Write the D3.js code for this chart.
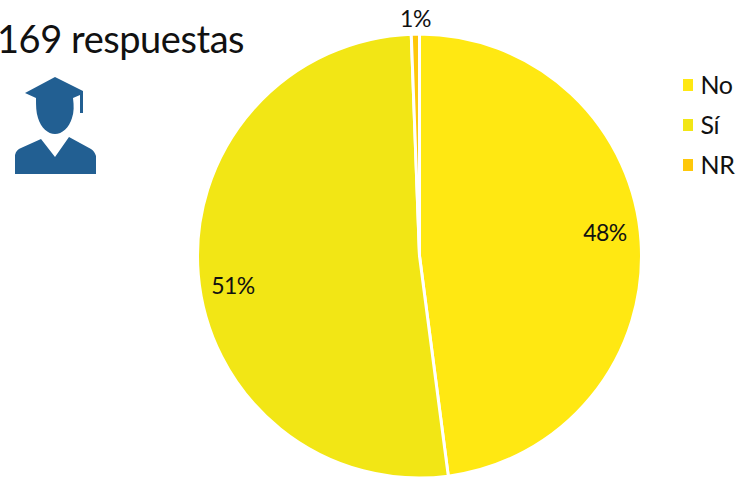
<!DOCTYPE html>
<html><head><meta charset="utf-8">
<script src="https://cdn.jsdelivr.net/npm/d3@7/dist/d3.min.js"></script>
<style>html,body{margin:0;padding:0;background:#fff;overflow:hidden}svg{display:block}text{font-family:Lato,"Open Sans",sans-serif;fill:#111}</style>
</head><body><svg id="c" width="737" height="478"></svg>
<script>
const categories = ["No","Sí","NR"];
const values = [81,87,1];
const labels = ["48%","51%","1%"];
const colors = ["#ffe812","#f2e615","#fec80a"];
const title = "169 respuestas";
const svg = d3.select("#c");
const cx=419.5, cy=256, R=222;
const pie = d3.pie().sort(null)(values);
const arc = d3.arc().innerRadius(0).outerRadius(R);
const g = svg.append("g").attr("transform",`translate(${cx},${cy})`);
g.selectAll("path").data(pie).join("path").attr("d",arc)
 .attr("fill",(d,i)=>colors[i]).attr("stroke","#fff").attr("stroke-width",3).attr("stroke-linejoin","round");
const labelPos = [[185.5,-15],[-186.5,38],[-4,-229]];
g.selectAll("text").data(pie).join("text")
 .attr("x",(d,i)=>labelPos[i][0]).attr("y",(d,i)=>labelPos[i][1])
 .attr("text-anchor","middle").attr("font-size",23).attr("letter-spacing",-0.5)
 .text((d,i)=>labels[i]);
svg.append("text").attr("x",-3).attr("y",52.5).attr("font-size",38).attr("letter-spacing",-0.45).text(title);
const lg = svg.append("g");
const ly = d3.scalePoint().domain(categories).range([85,165]);
categories.forEach((c,i)=>{
  lg.append("rect").attr("x",683).attr("y",ly(c)-6).attr("width",10).attr("height",12).attr("fill",colors[i]);
  lg.append("text").attr("x",700.5).attr("y",ly(c)+8.5).attr("font-size",25).attr("letter-spacing",-0.4).text(c);
});
// graduate icon
svg.append("path").attr("fill","#225f92").attr("d",
 "M55 77 L25 93 L36 98 C36 106 36 112 38 118 C41 128 48 134 55 134 C62 134 69 128 72 118 C74 112 74 106 73 98 L80 95 L80 113 L83 113 L83 91 Z "+
 "M15 174 L15 155 C16 151 18 149 21 148 L41 139 L55 157 L69 137 L91 149 C94 151 95 153 96 156 L96 174 Z");
</script></body></html>
